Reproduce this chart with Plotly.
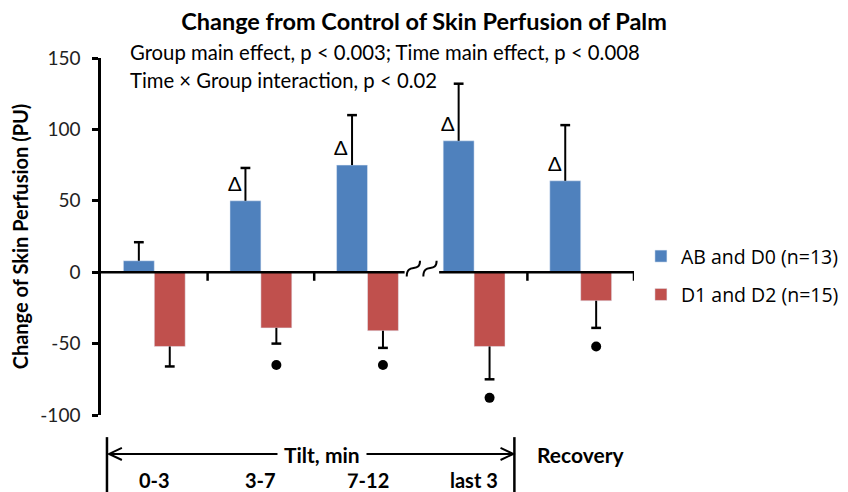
import plotly.graph_objects as go

# data
categories = ["0-3", "3-7", "7-12", "last 3", "Recovery"]
ab_d0 = [8, 50, 75, 92, 64]
ab_d0_sem = [13, 23, 35, 40, 39]
d1_d2 = [-52, -39, -41, -52, -20]
d1_d2_sem = [14, 11, 12, 23, 19]
delta_marks = [False, True, True, True, True]   # Δ above AB/D0 bars
dot_marks = [None, -65, -65, -88, -52]          # ● below D1/D2 bars
y_ticks = [-100, -50, 0, 50, 100, 150]
y_ticktext = ['-100', '-50', '0', '50', '100', '150']

BLUE = '#4F81BD'
RED = '#C0504D'
FONT = 'Lato'
x = list(range(len(categories)))
off = 0.145

fig = go.Figure()
fig.add_trace(go.Bar(x=x, y=ab_d0, name='AB and D0 (n=13)', marker_color=BLUE,
                     legendgroup='a'))
fig.add_trace(go.Bar(x=x, y=d1_d2, name='D1 and D2 (n=15)', marker_color=RED,
                     legendgroup='b'))

# one-sided error bars (stem + cap at the far end only)
ex, ey, cx, cy = [], [], [], []
for i in x:
    xb = i - off
    ex += [xb, xb, None]
    ey += [ab_d0[i], ab_d0[i] + ab_d0_sem[i], None]
    cx.append(xb); cy.append(ab_d0[i] + ab_d0_sem[i])
    xr = i + off
    ex += [xr, xr, None]
    ey += [d1_d2[i], d1_d2[i] - d1_d2_sem[i], None]
    cx.append(xr); cy.append(d1_d2[i] - d1_d2_sem[i])
fig.add_trace(go.Scatter(x=ex, y=ey, mode='lines', line=dict(color='black', width=2),
                         showlegend=False, hoverinfo='skip'))
fig.add_trace(go.Scatter(x=cx, y=cy, mode='markers', showlegend=False, hoverinfo='skip',
                         marker=dict(symbol='line-ew-open', size=7, color='black',
                                     line=dict(color='black', width=2.5))))

# significance dots
dx = [i + off for i in x if dot_marks[i] is not None]
dy = [v for v in dot_marks if v is not None]
fig.add_trace(go.Scatter(x=dx, y=dy, mode='markers', showlegend=False, hoverinfo='skip',
                         marker=dict(symbol='circle', size=10, color='black')))

annotations = []
for i in x:
    if delta_marks[i]:
        annotations.append(dict(x=i - off - 0.1, y=ab_d0[i] + 3, xref='x', yref='y',
                                text='Δ', showarrow=False, yanchor='bottom',
                                font=dict(family=FONT, size=20, color='black')))

annotations += [
    dict(x=(128 - 101) / 539, y=(415 - 52) / 357, xref='paper', yref='paper',
         xanchor='left', yanchor='middle',
         text='Group main effect, p < 0.003; Time main effect, p < 0.008',
         showarrow=False, font=dict(family=FONT, size=20.3, color='black')),
    dict(x=(128 - 101) / 539, y=(415 - 80) / 357, xref='paper', yref='paper',
         xanchor='left', yanchor='middle',
         text='Time × Group interaction, p < 0.02',
         showarrow=False, font=dict(family=FONT, size=20.3, color='black')),
]

# category labels under the chart
row_top, row_bot = -0.112, -0.181
for i, c in enumerate(categories):
    top = c == 'Recovery'
    annotations.append(dict(x=i, y=row_top if top else row_bot,
                            xref='x', yref='paper', xanchor='center', yanchor='middle',
                            text=f'<b>{c}</b>', showarrow=False,
                            font=dict(family=FONT, size=21 if top else 20, color='black')))
annotations.append(dict(x=1.57, y=row_top, xref='x', yref='paper', xanchor='center',
                        yanchor='middle', text='<b>Tilt, min</b>',
                        showarrow=False, bgcolor='white', borderpad=6,
                        font=dict(family=FONT, size=21, color='black')))

shapes = []
line = dict(color='black', width=2.5)
# broken x-axis line at zero
brk0, brk1 = 2.348, 2.672
shapes.append(dict(type='line', xref='x', yref='y', x0=-0.5, x1=brk0, y0=0, y1=0, line=line))
shapes.append(dict(type='line', xref='x', yref='y', x0=brk1, x1=4.5, y0=0, y1=0, line=line))
for t in [0.5, 1.5, 3.5, 4.5]:
    shapes.append(dict(type='line', xref='x', yref='y', x0=t, x1=t, y0=0, y1=-6, line=line))
# squiggles in the gap
w = (brk1 - brk0) / 2.6
for s in [brk0 + 0.02, brk0 + 0.02 + w * 1.25]:
    p = (f'M{s},-3 C{s},7 {s + w},-1 {s + w},8')
    shapes.append(dict(type='path', xref='x', yref='y', path=p,
                       line=dict(color='black', width=2)))

# tilt bracket with arrows
lx, rx = -0.444, 3.378
ya, yt, yb = -0.109, -0.062, -0.216
shapes.append(dict(type='line', xref='x', yref='paper', x0=lx, x1=lx, y0=yt, y1=yb, line=line))
shapes.append(dict(type='line', xref='x', yref='paper', x0=rx, x1=rx, y0=yt, y1=yb, line=line))
shapes.append(dict(type='line', xref='x', yref='paper', x0=lx + 0.02, x1=rx - 0.01, y0=ya, y1=ya,
                   line=dict(color='black', width=2)))
ah, av = 0.12, 0.017
shapes.append(dict(type='path', xref='x', yref='paper',
                   path=f'M{lx + 0.02 + ah},{ya + av} L{lx + 0.02},{ya} L{lx + 0.02 + ah},{ya - av}',
                   line=dict(color='black', width=2)))
shapes.append(dict(type='path', xref='x', yref='paper',
                   path=f'M{rx - 0.01 - ah},{ya + av} L{rx - 0.01},{ya} L{rx - 0.01 - ah},{ya - av}',
                   line=dict(color='black', width=2)))

# the page body has an 8px margin, so margins are shifted by 8px
fig.update_layout(
    width=848, height=492,
    margin=dict(l=93, r=216, t=50, b=85),
    plot_bgcolor='white', paper_bgcolor='white',
    barmode='group', bargap=0.42, bargroupgap=0,
    title=dict(text='<b>Change from Control of Skin Perfusion of Palm</b>',
               x=(424 - 8) / 848, xanchor='center', xref='container',
               y=1 - 14 / 492, yanchor='middle', yref='container',
               font=dict(family=FONT, size=23.5, color='black')),
    legend=dict(x=1.013, y=0.391, xanchor='left', yanchor='middle',
                font=dict(family='Open Sans', size=19.5, color='black'),
                tracegroupgap=10, bgcolor='rgba(0,0,0,0)'),
    annotations=annotations,
    shapes=shapes,
    showlegend=True,
)
fig.update_xaxes(range=[-0.5, 4.5], showline=False, showgrid=False, zeroline=False,
                 showticklabels=False, ticks='')
fig.update_yaxes(range=[-100, 150], tickvals=y_ticks, ticktext=y_ticktext,
                 showline=True, linecolor='black', linewidth=2.5,
                 ticks='outside', ticklen=6, tickwidth=2.5, tickcolor='black',
                 showgrid=False, zeroline=False, ticklabelstandoff=8, automargin=False,
                 tickfont=dict(family=FONT, size=19, color='#222'),
                 title=dict(text='<b>Change of Skin Perfusion (PU)</b>', standoff=10,
                            font=dict(family=FONT, size=20, color='black')))

fig.write_html("out.html")
